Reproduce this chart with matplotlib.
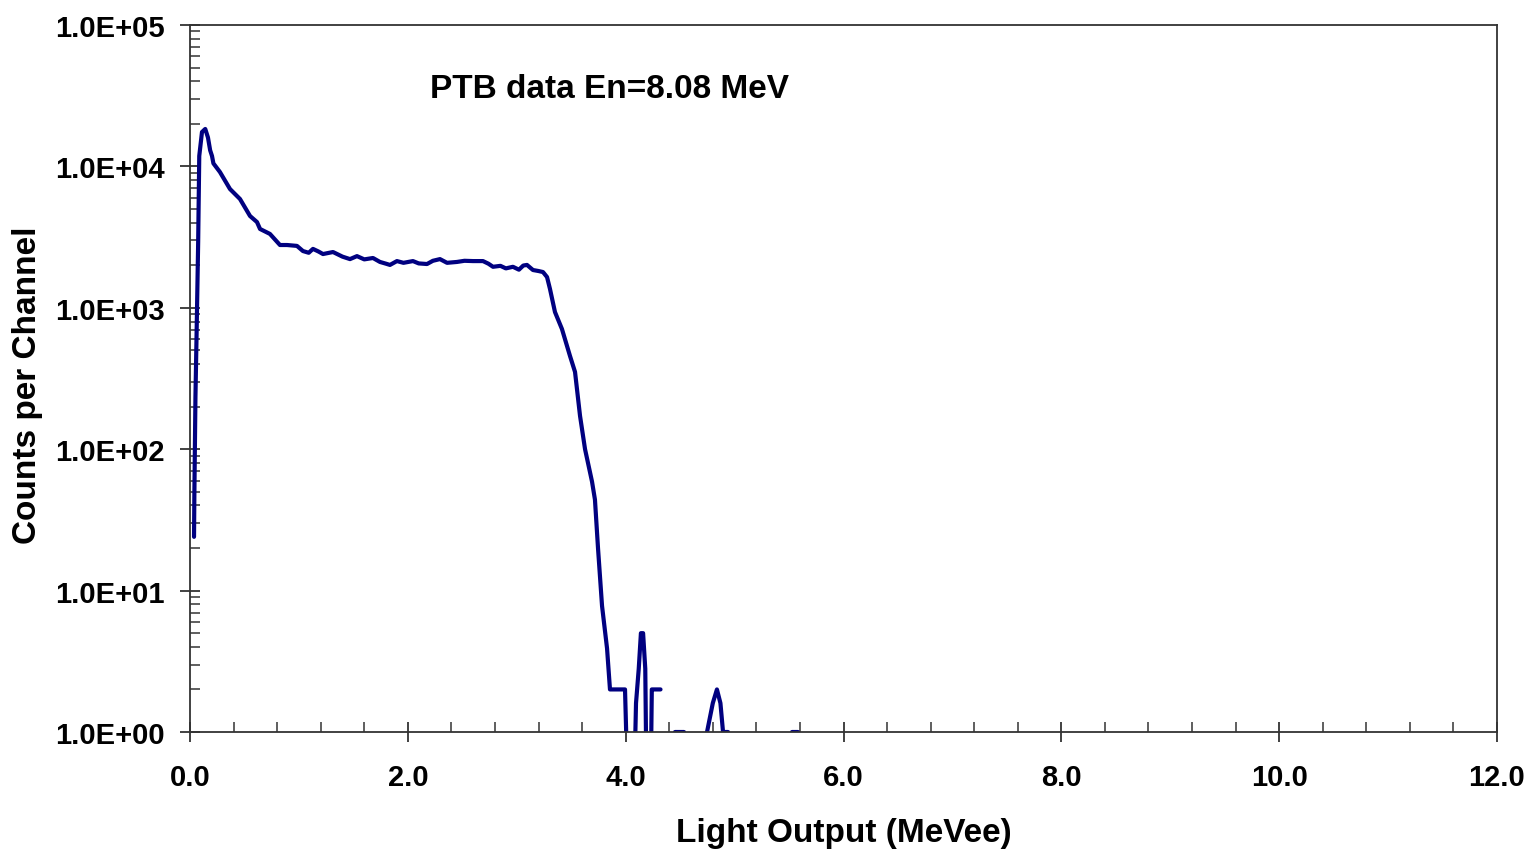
import numpy as np
import matplotlib
matplotlib.use("Agg")
import matplotlib.pyplot as plt
from matplotlib.ticker import FuncFormatter, MultipleLocator, LogLocator, NullFormatter

# ─── DATA ─────────────────────────────────────────────────────────────────────
# main spectrum, MeVee vs counts per channel
light_main = [0.037, 0.040, 0.050, 0.060, 0.075, 0.085, 0.110, 0.140, 0.165,
              0.185, 0.202, 0.215, 0.275, 0.367, 0.459, 0.551, 0.615, 0.643,
              0.734, 0.826, 0.891, 0.982, 1.037, 1.090, 1.129, 1.180, 1.221,
              1.313, 1.400, 1.469, 1.533, 1.600, 1.680, 1.744, 1.800, 1.836,
              1.900, 1.960, 2.047, 2.100, 2.176, 2.230, 2.295, 2.360, 2.451,
              2.520, 2.598, 2.690, 2.740, 2.782, 2.850, 2.900, 2.965, 3.020,
              3.060, 3.094, 3.149, 3.200, 3.241, 3.278, 3.305, 3.351, 3.415,
              3.489, 3.535, 3.581, 3.627, 3.691, 3.718, 3.746, 3.783, 3.829,
              3.856, 3.994, 4.040]
counts_main = [24, 47, 234, 622, 2920, 11850, 17500, 18400, 16000,
               13000, 11850, 10500, 9120, 6920, 5880, 4460, 4040, 3610,
               3330, 2780, 2780, 2740, 2520, 2450, 2610, 2500, 2400,
               2480, 2300, 2210, 2320, 2200, 2250, 2110, 2050, 2010,
               2140, 2080, 2140, 2060, 2040, 2150, 2210, 2080, 2110,
               2150, 2140, 2140, 2050, 1950, 1980, 1900, 1950, 1860,
               1990, 2010, 1850, 1820, 1790, 1650, 1360, 933, 708,
               456, 352, 172, 100, 59, 44, 20, 7.8, 3.9,
               2, 2, 0.1]

# small structures above the end point
light_tail = [4.060, 4.095, 4.120, 4.140, 4.160, 4.180, 4.200, 4.220, 4.240,
              4.260, 4.320]
counts_tail = [0.1, 1.6, 2.8, 5, 5, 2.8, 0.1, 0.1, 2, 2, 2]

light_bump1 = [4.45, 4.54]
counts_bump1 = [1, 1]

light_bump2 = [4.747, 4.800, 4.838, 4.870, 4.894, 4.940]
counts_bump2 = [1, 1.6, 2, 1.6, 1, 1]

light_bump3 = [5.53, 5.58]
counts_bump3 = [1, 1]

y_ticks = [1e0, 1e1, 1e2, 1e3, 1e4, 1e5]
title_text = "PTB data En=8.08 MeV"
# ──────────────────────────────────────────────────────────────────────────────

plt.rcParams["font.family"] = ["Liberation Sans", "DejaVu Sans"]
plt.rcParams["font.weight"] = "bold"

fig = plt.figure(figsize=(15.29, 8.53), dpi=100)
ax = fig.add_axes([190 / 1529, 1 - 733 / 853, 1307 / 1529, 707 / 853])

line_kw = dict(color="#000080", lw=3.0, solid_joinstyle="round", solid_capstyle="round")
for xs, ys in [(light_main, counts_main), (light_tail, counts_tail),
               (light_bump1, counts_bump1), (light_bump2, counts_bump2),
               (light_bump3, counts_bump3)]:
    ax.plot(xs, ys, **line_kw)

ax.set_yscale("log")
ax.set_xlim(0, 12)
ax.set_ylim(1, 1e5)

ax.xaxis.set_major_locator(MultipleLocator(2.0))
ax.xaxis.set_minor_locator(MultipleLocator(0.4))
ax.xaxis.set_major_formatter(FuncFormatter(lambda v, p: f"{v:.1f}"))
ax.set_yticks(y_ticks)
ax.yaxis.set_minor_locator(LogLocator(base=10, subs=np.arange(2, 10)))
ax.yaxis.set_minor_formatter(NullFormatter())
ax.yaxis.set_major_formatter(FuncFormatter(lambda v, p: f"{v:.1E}"))

ax.tick_params(which="major", direction="inout", length=14, width=1.3,
               color="#333333", labelsize=21)
ax.tick_params(axis="x", which="major", pad=15)
ax.tick_params(axis="y", which="major", pad=11)
ax.tick_params(which="minor", direction="in", length=7, width=1.1, color="#333333")

for s in ax.spines.values():
    s.set_linewidth(1.3)
    s.set_color("#333333")

ax.set_xlabel("Light Output (MeVee)", fontsize=24, fontweight="bold", va="center")
ax.xaxis.set_label_coords(0.5, -101 / 707)
ax.set_ylabel("Counts per Channel", fontsize=24, fontweight="bold", va="center")
ax.yaxis.set_label_coords(-162 / 1307, (733 - 385) / 707)

ax.text((430 - 190) / 1307, (733 - 89) / 707, title_text, transform=ax.transAxes,
        fontsize=24, fontweight="bold", ha="left", va="center")

fig.savefig("out.png", dpi=100)
